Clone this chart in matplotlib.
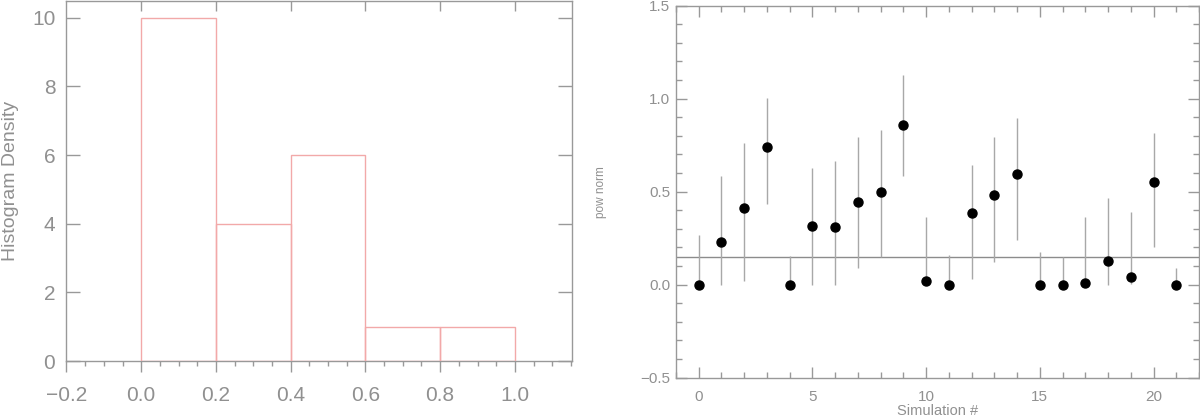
import numpy as np
import matplotlib
matplotlib.use("Agg")
import matplotlib.pyplot as plt
from matplotlib.ticker import MultipleLocator

plt.rcParams['font.family'] = ['Liberation Sans', 'DejaVu Sans']

# histogram (left)
bin_edges = [0.0, 0.2, 0.4, 0.6, 0.8, 1.0]
hist_density = [10, 4, 6, 1, 1]

# simulations (right)
sim = np.arange(22)
pow_norm = [0, 0.229, 0.412, 0.738, 0, 0.318, 0.312, 0.442, 0.496, 0.856, 0.0215,
            0, 0.385, 0.482, 0.595, 0, 0, 0.01, 0.129, 0.039, 0.554, 0]
err_lo = [0, 0, 0.0215, 0.434, 0, 0, 0, 0.088, 0.149, 0.582, 0,
          0, 0.03, 0.12, 0.242, 0, 0, 0, 0, 0.005, 0.204, 0]
err_hi = [0.265, 0.586, 0.761, 1.004, 0.154, 0.630, 0.666, 0.795, 0.833, 1.127, 0.365,
          0.158, 0.642, 0.796, 0.897, 0.176, 0.148, 0.362, 0.464, 0.390, 0.815, 0.091]
ref_level = 0.15

gray = '#999999'
txt = '#909090'
pink = '#f2a9a9'

fig = plt.figure(figsize=(12, 4.16), dpi=100)

# ---- left panel
ax1 = fig.add_axes([0.0554, 0.1322, 0.4210, 0.8661])
edges = np.array(bin_edges)
ax1.bar(edges[:-1], hist_density, width=np.diff(edges), align='edge',
        fill=False, edgecolor=pink, linewidth=1.0, zorder=3)
ax1.set_xlim(-0.2, 1.152)
ax1.set_ylim(0, 10.5)
ax1.xaxis.set_major_locator(MultipleLocator(0.2))
ax1.xaxis.set_minor_locator(MultipleLocator(0.05))
ax1.yaxis.set_major_locator(MultipleLocator(2))
ax1.tick_params(axis='x', which='major', direction='out', length=8, width=1,
                color=gray, labelcolor=txt, labelsize=15, pad=10)
ax1.tick_params(axis='x', which='minor', direction='out', length=3.5, width=1, color=gray)
ax1.tick_params(axis='y', which='major', direction='in', length=10, width=1,
                color=gray, labelcolor=txt, labelsize=15, right=True, pad=8)
ax1.set_ylabel('Histogram Density', color=txt, fontsize=14)
ax1.yaxis.set_label_coords(-0.0935, 0.5)
# top ticks only at major positions
top1 = ax1.secondary_xaxis('top')
top1.set_xticks([0.0, 0.2, 0.4, 0.6, 0.8, 1.0])
top1.tick_params(direction='in', length=7, width=1, color=gray, labeltop=False)
top1.spines['top'].set_visible(False)
for s in ax1.spines.values():
    s.set_color(gray)
    s.set_linewidth(1)

# ---- right panel
ax2 = fig.add_axes([0.5633, 0.0921, 0.4359, 0.8942])
yerr = [np.array(pow_norm) - np.array(err_lo), np.array(err_hi) - np.array(pow_norm)]
ax2.errorbar(sim, pow_norm, yerr=yerr, fmt='o', color='black', markersize=6.5,
             ecolor='#a8a8a8', elinewidth=1.0, capsize=0, zorder=3)
ax2.axhline(ref_level, color='#8c8c8c', linewidth=1.0, zorder=2)
ax2.set_xlim(-1, 22)
ax2.set_ylim(-0.5, 1.5)
ax2.xaxis.set_major_locator(MultipleLocator(5))
ax2.xaxis.set_minor_locator(MultipleLocator(1))
ax2.yaxis.set_major_locator(MultipleLocator(0.5))
ax2.yaxis.set_minor_locator(MultipleLocator(0.1))
ax2.tick_params(which='major', direction='in', length=8, width=1, color=gray,
                labelcolor=txt, labelsize=11, top=True, right=True)
ax2.tick_params(which='minor', direction='in', length=4, width=1, color=gray,
                top=True, right=True)
ax2.tick_params(axis='x', pad=9)
ax2.tick_params(axis='y', pad=4)
ax2.set_xlabel('Simulation #', color=txt, fontsize=10.5, labelpad=0)
ax2.set_ylabel('pow norm', color=txt, fontsize=8.5, labelpad=24)
for s in ax2.spines.values():
    s.set_color(gray)
    s.set_linewidth(1)

fig.savefig('out.png', dpi=100)
